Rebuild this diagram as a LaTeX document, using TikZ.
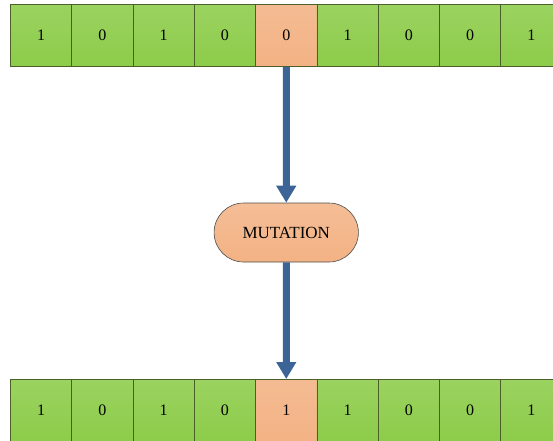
\documentclass[tikz,border=0pt]{standalone}
\usepackage{fontspec}
\setmainfont{Liberation Serif}
\definecolor{cellgreen}{RGB}{141,204,74}
\definecolor{cellorange}{RGB}{243,178,132}
\definecolor{celledge}{RGB}{75,95,40}
\definecolor{arrowblue}{RGB}{60,100,150}
\usetikzlibrary{arrows.meta,shapes.misc}

\begin{document}
\begin{tikzpicture}[x=1pt,y=-1pt,
  bitcell/.style={draw=celledge,line width=0.8pt,minimum width=61.3pt,minimum height=62pt,
    anchor=north west,inner sep=0pt,font=\fontsize{16}{18}\selectfont},
  term/.style={rounded rectangle,draw=black!70,line width=0.6pt,minimum width=151pt,minimum height=59pt,
    top color=cellorange!85!white,bottom color=cellorange,font=\fontsize{17}{19}\selectfont},
  flow/.style={arrowblue,line width=7pt,-{Triangle[width=19pt,length=17pt]}}]
  \useasboundingbox (0,0) rectangle (553,440);
  \clip (0,0) rectangle (553,440);
  % parent and child strings
  \foreach \i/\t/\b/\col in {0/1/1/cellgreen, 1/0/0/cellgreen, 2/1/1/cellgreen, 3/0/0/cellgreen,
      4/0/1/cellorange, 5/1/1/cellgreen, 6/0/0/cellgreen, 7/0/0/cellgreen, 8/1/1/cellgreen}{
    \node[bitcell,top color=\col!88!white,bottom color=\col] (t\i) at (10+61.3*\i,4) {\t};
    \node[bitcell,top color=\col!88!white,bottom color=\col] (b\i) at (10+61.3*\i,379) {\b};
  }
  \node[term] (mut) at (t4 |- 0,232.5) {MUTATION};
  \draw[flow] (t4) -- (mut);
  \draw[flow] (mut) -- (b4);
\end{tikzpicture}
\end{document}
